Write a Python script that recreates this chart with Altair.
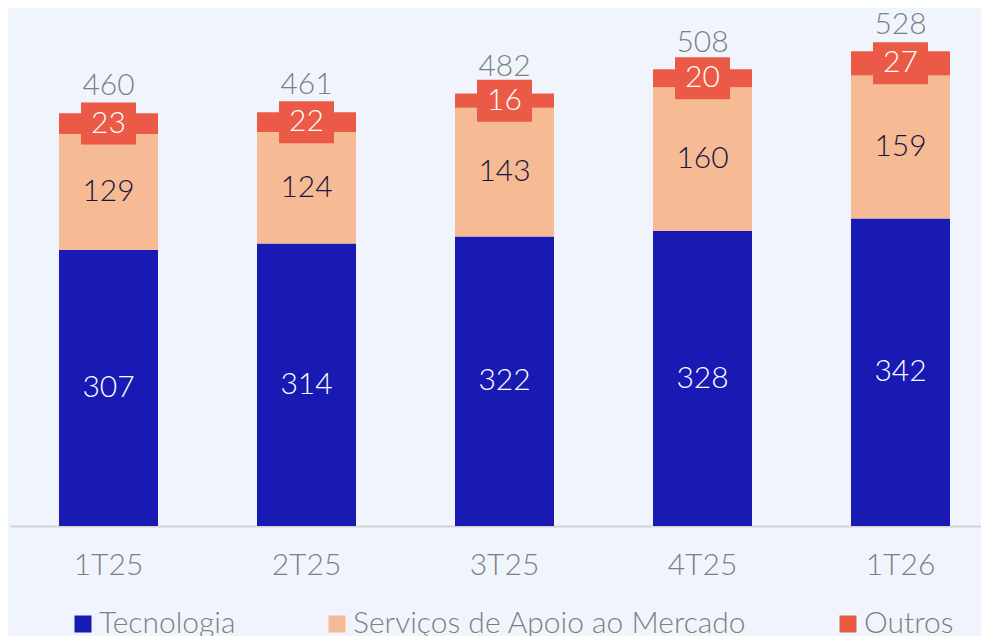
import altair as alt
import pandas as pd

quarters = ["1T25", "2T25", "3T25", "4T25", "1T26"]
series = ["Tecnologia", "Serviços de Apoio ao Mercado", "Outros"]
tecnologia = [307, 314, 322, 328, 342]
servicos = [129, 124, 143, 160, 159]
outros = [23, 22, 16, 20, 27]
totals = [460, 461, 482, 508, 528]

colors = ["#1919b3", "#f6bb94", "#eb5a46"]
label_colors = ["#ffffff", "#16163f", "#ffffff"]

rows = []
for i, q in enumerate(quarters):
    for k, (name, vals) in enumerate(zip(series, [tecnologia, servicos, outros])):
        rows.append({"quarter": q, "series": name, "value": vals[i], "ord": k})
df = pd.DataFrame(rows)
tot_df = pd.DataFrame({"quarter": quarters, "total": totals})

FONT = "Lato"
GRAY = "#7f7f7f"
FS = 30

xenc = alt.X(
    "quarter:N",
    sort=quarters,
    scale=alt.Scale(paddingInner=0.5, paddingOuter=0.202, align=0.6125, round=False),
    axis=alt.Axis(
        title=None, labelAngle=0, ticks=False, domainColor="#d3d3d3", domainWidth=2,
        labelFontSize=FS, labelColor=GRAY, labelPadding=24, labelFont=FONT,
        labelFontWeight=300,
    ),
)
yscale = alt.Scale(domain=[0, 576], nice=False, zero=True)

base = alt.Chart(df).transform_stack(
    stack="value", as_=["v0", "v1"], groupby=["quarter"], sort=[alt.SortField("ord")]
).transform_calculate(mid="(datum.v0 + datum.v1) / 2")

bars = base.mark_bar().encode(
    x=xenc,
    y=alt.Y("v0:Q", scale=yscale, axis=None),
    y2="v1:Q",
    color=alt.Color(
        "series:N",
        scale=alt.Scale(domain=series, range=colors),
        legend=alt.Legend(
            orient="none", legendX=58, legendY=601, direction="horizontal", title=None,
            symbolType="square", symbolSize=289, symbolStrokeWidth=0, symbolOpacity=1,
            labelFontSize=FS, labelColor=GRAY, labelFont=FONT, labelFontWeight=300,
            labelOffset=1, columnPadding=86, padding=0, labelLimit=0,
        ),
    ),
)

boxes = base.transform_filter(alt.datum.series == "Outros").mark_rect(
    width=55, height=42, color=colors[2]
).encode(x=xenc, y=alt.Y("mid:Q", scale=yscale))

labels = base.mark_text(fontSize=FS, font=FONT, fontWeight=300, baseline="middle").encode(
    x=xenc,
    y=alt.Y("mid:Q", scale=yscale),
    text="value:Q",
    color=alt.Color("series:N", scale=alt.Scale(domain=series, range=label_colors), legend=None),
)

tot = alt.Chart(tot_df).mark_text(
    fontSize=FS, font=FONT, fontWeight=300, baseline="alphabetic", dy=-17, color=GRAY
).encode(x=xenc, y=alt.Y("total:Q", scale=yscale), text="total:Q")

chart = alt.layer(bars, boxes, labels, tot).resolve_scale(color="independent").properties(
    width=971, height=518,
    autosize=alt.AutoSizeParams(type="none"),
    padding={"left": 2, "top": 0, "right": 0, "bottom": 110},
).configure(background="#f0f5fd").configure_view(stroke=None)

chart.save("out.html", embed_options={"renderer": "svg", "actions": False})
